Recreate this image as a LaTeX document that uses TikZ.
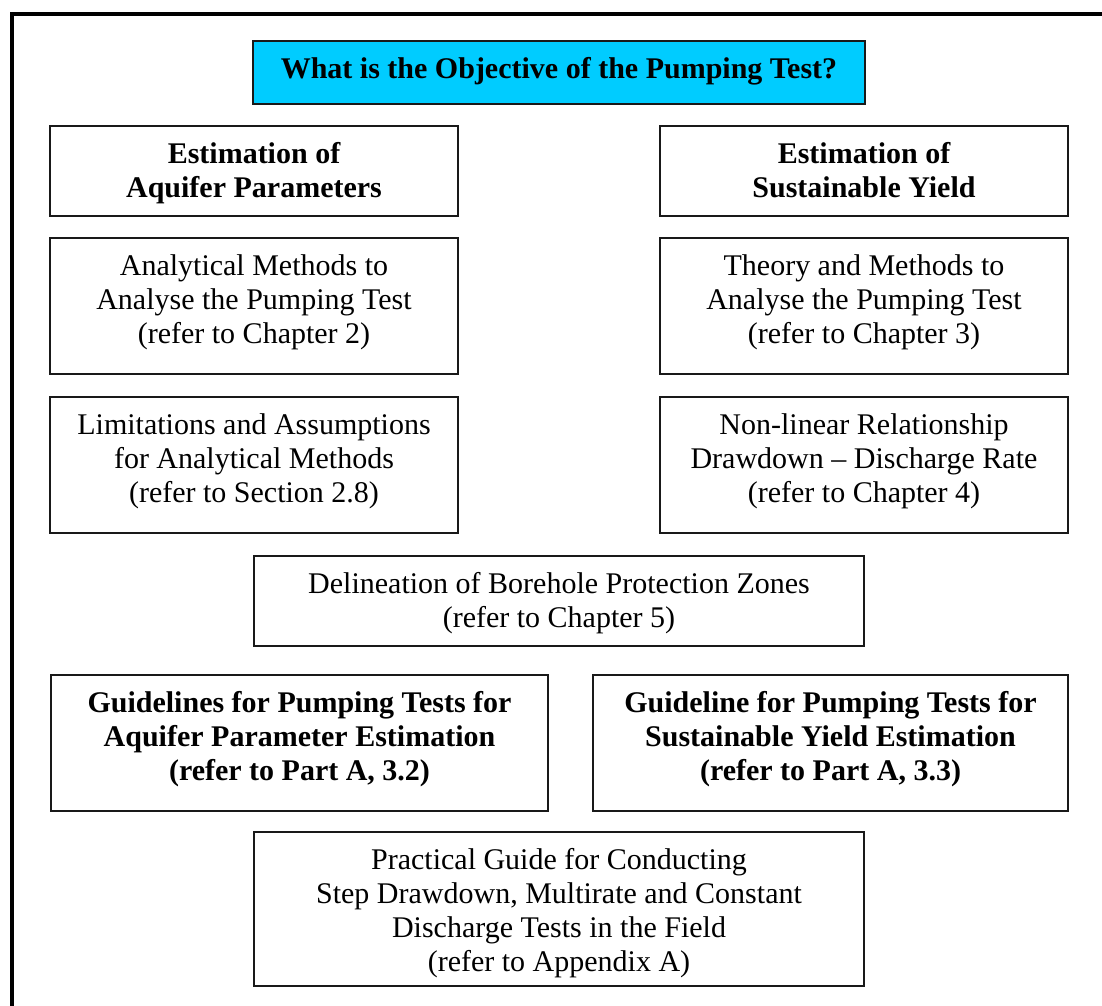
\documentclass[tikz,border=0pt]{standalone}
\usepackage{fontspec}
\setmainfont{Liberation Serif}
\definecolor{titlecyan}{HTML}{00CCFF}
\tikzset{
  box/.style={draw=black!90, line width=1.5pt, rectangle, inner sep=0pt, align=flush center,
    text height=37.5pt, font=\fontsize{30pt}{34pt}\selectfont},
  boldbox/.style={box, font=\fontsize{30pt}{34pt}\selectfont\bfseries},
  frameline/.style={line width=4pt, black}
}
\begin{document}
\begin{tikzpicture}[x=1pt,y=1pt]
\useasboundingbox (0,0) rectangle (1102,-1005);
\coordinate (fb) at (12,-1010);
\coordinate (fc) at (12,-14);
\coordinate (fr) at (1110,-14);
\draw[frameline] (fb) -- (fc) -- (fr);

\node[boldbox, fill=titlecyan, text width=600pt, minimum width=612, text depth=25.5pt, minimum height=63] (title) at (559,-72.5)
  {What is the Objective of the Pumping Test?};

\node[boldbox, text width=400pt, minimum width=408, text depth=52.5pt, minimum height=90] (est1) at (254,-171)
  {Estimation of\\Aquifer Parameters};
\node[boldbox, text width=400pt, minimum width=408, text depth=52.5pt, minimum height=90] (est2) at (864,-171)
  {Estimation of\\Sustainable Yield};

\node[box, text width=400pt, minimum width=408, text depth=98.5pt, minimum height=136] (ana) at (254,-306)
  {Analytical Methods to\\Analyse the Pumping Test\\(refer to Chapter 2)};
\node[box, text width=400pt, minimum width=408, text depth=98.5pt, minimum height=136] (theory) at (864,-306)
  {Theory and Methods to\\Analyse the Pumping Test\\(refer to Chapter 3)};

\node[box, text width=400pt, minimum width=408, text depth=98.5pt, minimum height=136] (lim) at (254,-465)
  {Limitations and Assumptions\\for Analytical Methods\\(refer to Section 2.8)};
\node[box, text width=400pt, minimum width=408, text depth=98.5pt, minimum height=136] (nonlin) at (864,-465)
  {Non-linear Relationship\\Drawdown – Discharge Rate\\(refer to Chapter 4)};

\node[box, text width=600pt, minimum width=610, text depth=52.5pt, minimum height=90] (delin) at (559,-601)
  {Delineation of Borehole Protection Zones\\(refer to Chapter 5)};

\node[boldbox, text width=489pt, minimum width=497, text depth=98.5pt, minimum height=136] (guide1) at (299.5,-743)
  {Guidelines for Pumping Tests for\\Aquifer Parameter Estimation\\(refer to Part A, 3.2)};
\node[boldbox, text width=467pt, minimum width=475, text depth=98.5pt, minimum height=136] (guide2) at (830.5,-743)
  {Guideline for Pumping Tests for\\Sustainable Yield Estimation\\(refer to Part A, 3.3)};

\node[box, text width=600pt, minimum width=610, text depth=116.5pt, minimum height=154] (prac) at (559,-909)
  {Practical Guide for Conducting\\Step Drawdown, Multirate and Constant\\Discharge Tests in the Field\\(refer to Appendix A)};
\end{tikzpicture}
\end{document}
